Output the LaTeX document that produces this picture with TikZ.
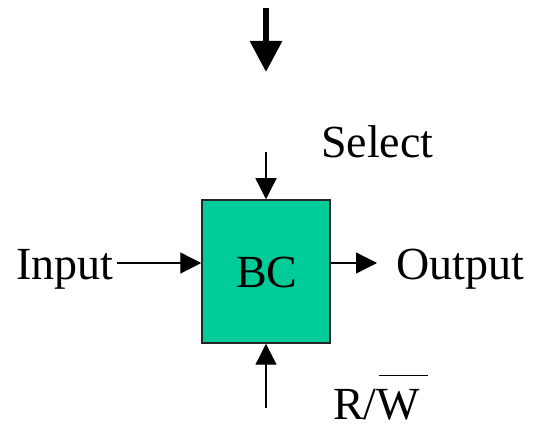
\documentclass[tikz,border=0pt]{standalone}
\usepackage{fontspec}
\setmainfont{Liberation Serif}
\usetikzlibrary{arrows.meta}
\definecolor{bcgreen}{RGB}{0,204,153}
\begin{document}
\begin{tikzpicture}[x=1pt,y=1pt,
  lbl/.style={inner sep=0pt,anchor=base west,font=\fontsize{46}{50}\selectfont},
  arr/.style={line width=1.3pt,-{Triangle[length=21pt,width=21pt]}},
  bigarr/.style={line width=6pt,-{Triangle[length=31pt,width=31pt]}},
  blk/.style={draw=black!85,line width=1.5pt,fill=bcgreen,minimum width=128pt,minimum height=143pt,inner sep=0pt}]
\useasboundingbox (0,0) rectangle (535,433);
\node[blk] (box) at (266,161.5) {};
\node[lbl] (bc) at (236,145) {BC};
\node[lbl] (input) at (16,153) {Input};
\node[lbl] (output) at (396,153) {Output};
\node[lbl] (select) at (321,275) {Select};
\node[lbl] (rw) at (333,13) {R/\rlap{\hspace{2pt}\rule[44pt]{49pt}{1.3pt}}W};
\coordinate (bigtop) at (266,425);
\coordinate (bigtip) at (266,361);
\coordinate (seltop) at (266,281);
\coordinate (rwbot) at (266,25);
\coordinate (inl) at (117,170);
\coordinate (outr) at (377,170);
\draw[bigarr] (bigtop) -- (bigtip);
\draw[arr] (seltop) -- (box.north);
\draw[arr] (rwbot) -- (box.south);
\draw[arr] (inl) -- (inl -| box.west);
\draw[arr] (outr -| box.east) -- (outr);
\end{tikzpicture}
\end{document}
